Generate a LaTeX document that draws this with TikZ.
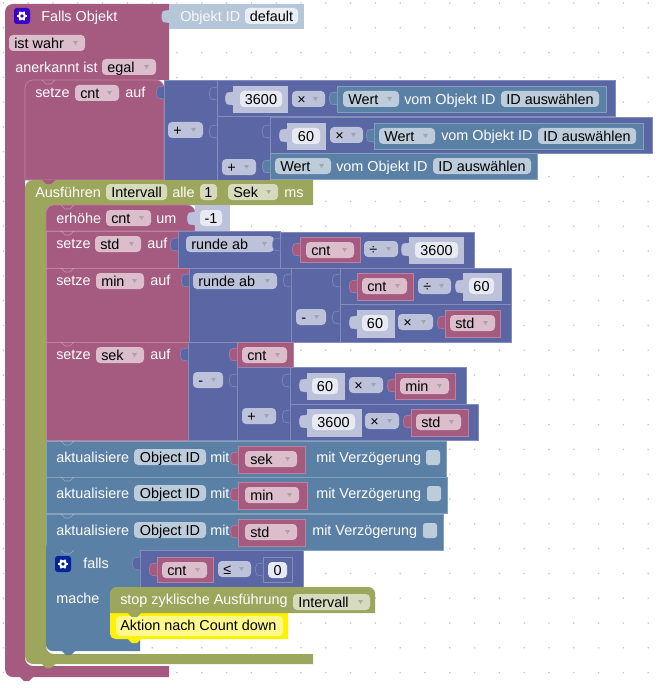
\documentclass[tikz,border=0pt]{standalone}
\usepackage{fontspec}
\setmainfont{Liberation Sans}

\definecolor{magc}{HTML}{A55B80}
\definecolor{magl}{HTML}{BC819E}
\definecolor{magd}{HTML}{DBBDCC}
\definecolor{mathc}{HTML}{5B67A5}
\definecolor{mathl}{HTML}{838DBC}
\definecolor{mathd}{HTML}{BDC2DB}
\definecolor{steelc}{HTML}{5B80A5}
\definecolor{steell}{HTML}{83A0BC}
\definecolor{steeld}{HTML}{BDCCDB}
\definecolor{olivec}{HTML}{9CA65C}
\definecolor{olived}{HTML}{D7DBBD}
\definecolor{palec}{HTML}{B4C6D8}
\definecolor{numf}{HTML}{E8EAF3}

% Bausteine: Rechteck, Wert-Lasche, untere Lasche
\newcommand{\blk}[5]{\path[#1] (#2,#3) rectangle (#4,#5);}
\newcommand{\valtab}[3]{%
    \path[#3, draw=none] (#1,#2) .. controls (#1-3,#2-1) and (#1-3,#2+2) .. (#1-6,#2+1) .. controls (#1-8,#2+3) and (#1-8,#2+10) .. (#1-6,#2+12) .. controls (#1-3,#2+11) and (#1-3,#2+14) .. (#1,#2+13) -- cycle;
    \path[#3, fill=none] (#1,#2) .. controls (#1-3,#2-1) and (#1-3,#2+2) .. (#1-6,#2+1) .. controls (#1-8,#2+3) and (#1-8,#2+10) .. (#1-6,#2+12) .. controls (#1-3,#2+11) and (#1-3,#2+14) .. (#1,#2+13);}
\newcommand{\nexttab}[3]{\fill[#3] (#1,#2) -- (#1+4,#2+4) -- (#1+9,#2+4) -- (#1+13,#2) -- cycle;}
\newcommand{\notch}[2]{\draw[white, opacity=.35, line width=.5pt] (#1,#2) -- (#1+4,#2+4) -- (#1+9,#2+4) -- (#1+13,#2);}
% Auswahlfeld und Textfeld
\newcommand{\ddfield}[5]{%
    \fill[#1, rounded corners=3pt] (#2,#4) rectangle (#3,#4+16);
    \fill[black!40, opacity=.7] (#3-12,#4+6) -- (#3-7,#4+6) -- (#3-9.5,#4+10) -- cycle;
    \node[fldtxt, anchor=west] (dd#2x#4) at (#2+5,#4+8) {#5};}
\newcommand{\txtfield}[5]{%
    \fill[#1, rounded corners=3pt] (#2,#4) rectangle (#3,#4+16);
    \node[fldtxt] (tf#2x#4) at ({(#2+#3)/2},#4+8) {#5};}
% Zahnrad
\newcommand{\gearicon}[3]{%
    \fill[#3, rounded corners=2pt] (#1,#2) rectangle (#1+16,#2+16);
    \foreach \a in {0,60,...,300}
        \draw[white, line width=1.2pt] (#1+8,#2+8) -- ++(\a:5);
    \fill[white] (#1+8,#2+8) circle (4);
    \fill[#3] (#1+8,#2+8) circle (1.8);}

\begin{document}
\begin{tikzpicture}[
    x=0.75pt, y=-0.75pt, % 1 Einheit = 1 Pixel
    font=\fontsize{10.8}{13}\selectfont,
    lbl/.style={text=white, anchor=west, inner sep=0pt, text height=9.5pt, text depth=1.5pt},
    fldtxt/.style={text=black, inner sep=0pt, text height=9.5pt, text depth=1.5pt},
    magblk/.style={fill=magc, draw=magl, line width=.4pt},
    mathblk/.style={fill=mathc, draw=mathl, line width=.4pt},
    steelblk/.style={fill=steelc, draw=steell, line width=.4pt},
    numblk/.style={fill=mathd, draw=mathd, line width=.4pt},
    ]

    % --- Hintergrund ---
    \fill[white] (0,0) rectangle (659,688);
    \foreach \i in {0,...,26}
        \foreach \j in {0,...,27}
            \fill[black!22] ({3.4+24.8*\i},{3+24.8*\j}) circle (0.9);

    % --- Falls Objekt ---
    \fill[magc] (169,80) -- (33,80) [rounded corners=6pt] -- (25,80) -- (25,666) [sharp corners] -- (169,666)
        -- (169,677) [rounded corners=6pt] -- (5,677) -- (5,4) [sharp corners] -- (169,4) -- cycle;
    \nexttab{20}{677}{magc}
    \blk{fill=palec}{169}{4}{304}{29}
    \valtab{169}{10}{fill=palec}
    \gearicon{14}{8}{blue!55!violet}
    \node[lbl] (fallsObj) at (41,16) {Falls Objekt};
    \node[lbl, text=white!90!palec] (objId) at (180,16) {Objekt ID};
    \txtfield{fill=white!70!palec}{245}{298}{8}{default}
    \ddfield{fill=magd}{9}{85}{35}{ist wahr}
    \node[lbl] (anerkannt) at (15,67) {anerkannt ist};
    \ddfield{fill=magd}{102}{156}{59}{egal}

    % --- setze cnt ---
    \path[magblk, rounded corners=6pt] (25,180) -- (25,80) -- (164,80) [sharp corners] -- (164,180) -- cycle;
    \notch{42}{80}
    \node[lbl] (setzeCnt) at (35,92) {setze};
    \ddfield{fill=magd}{75}{119}{85}{cnt}
    \node[lbl] (aufCnt) at (125,92) {auf};
    \blk{mathblk}{164}{80}{217}{180}
    \valtab{164}{86}{mathblk}
    \ddfield{fill=mathd}{168}{203}{122}{+}
    \blk{mathblk}{217}{80}{615}{116}
    \valtab{217}{87}{mathblk}
    \blk{numblk}{233}{86}{287}{112}
    \valtab{233}{92}{numblk}
    \txtfield{fill=numf}{240}{282}{91}{3600}
    \ddfield{fill=mathd}{292}{325}{91}{×}
    \blk{steelblk}{337}{86}{606}{112}
    \valtab{337}{92}{steelblk}
    \ddfield{fill=steeld}{343}{399}{91}{Wert}
    \node[lbl] (vomA) at (404,99) {vom Objekt ID};
    \txtfield{fill=steeld}{501}{599}{91}{ID auswählen}
    \blk{mathblk}{217}{116}{270}{180}
    \valtab{217}{125}{mathblk}
    \ddfield{fill=mathd}{222}{256}{159}{+}
    \blk{mathblk}{270}{117}{652}{153}
    \valtab{270}{125}{mathblk}
    \blk{numblk}{287}{123}{325}{149}
    \valtab{287}{129}{numblk}
    \txtfield{fill=numf}{292}{320}{128}{60}
    \ddfield{fill=mathd}{330}{363}{127}{×}
    \blk{steelblk}{374}{123}{643}{149}
    \valtab{374}{129}{steelblk}
    \ddfield{fill=steeld}{379}{435}{128}{Wert}
    \node[lbl] (vomB) at (441,135) {vom Objekt ID};
    \txtfield{fill=steeld}{538}{636}{128}{ID auswählen}
    \blk{steelblk}{270}{153}{537}{179}
    \valtab{270}{160}{steelblk}
    \ddfield{fill=steeld}{275}{331}{158}{Wert}
    \node[lbl] (vomC) at (336,166) {vom Objekt ID};
    \txtfield{fill=steeld}{433}{531}{158}{ID auswählen}

    % --- Ausführen Intervall ---
    \fill[olivec] (313,205) -- (54,205) [rounded corners=6pt] -- (46,205) -- (46,654) [sharp corners] -- (313,654)
        -- (313,664) [rounded corners=6pt] -- (25,664) -- (25,180) [sharp corners] -- (313,180) -- cycle;
    \nexttab{42}{180}{magc}
    \nexttab{42}{664}{olivec}
    \node[lbl] (ausf) at (35,192) {Ausführen};
    \txtfield{fill=olived}{106}{167}{184}{Intervall}
    \node[lbl] (alle) at (172,192) {alle};
    \txtfield{fill=olived}{200}{217}{184}{1}
    \ddfield{fill=olived}{228}{278}{184}{Sek}
    \node[lbl] (ms) at (284,192) {ms};

    % --- erhöhe cnt ---
    \path[magblk, rounded corners=6pt] (46,231) -- (46,205) -- (195,205) [sharp corners] -- (195,231) -- cycle;
    \notch{61}{205}
    \node[lbl] (erhoehe) at (56,218) {erhöhe};
    \ddfield{fill=magd}{106}{151}{210}{cnt}
    \node[lbl] (um) at (156,218) {um};
    \blk{numblk}{195}{205}{229}{231}
    \valtab{195}{212}{numblk}
    \txtfield{fill=numf}{200}{222}{210}{-1}

    % --- setze std ---
    \blk{magblk}{46}{231}{178}{268}
    \notch{61}{231}
    \node[lbl] (setzeStd) at (56,243) {setze};
    \ddfield{fill=magd}{95}{141}{236}{std}
    \node[lbl] (aufStd) at (147,243) {auf};
    \blk{mathblk}{178}{231}{280}{268}
    \valtab{178}{238}{mathblk}
    \ddfield{fill=mathd}{186}{274}{236}{runde ab}
    \blk{mathblk}{280}{232}{474}{268}
    \valtab{280}{238}{mathblk}
    \blk{magblk}{300}{237}{360}{262}
    \valtab{300}{243}{magblk}
    \ddfield{fill=magd}{306}{354}{242}{cnt}
    \ddfield{fill=mathd}{364}{398}{241}{÷}
    \blk{numblk}{409}{237}{463}{263}
    \valtab{409}{243}{numblk}
    \txtfield{fill=numf}{415}{458}{242}{3600}

    % --- setze min ---
    \blk{magblk}{46}{268}{189}{342}
    \notch{61}{268}
    \node[lbl] (setzeMin) at (56,280) {setze};
    \ddfield{fill=magd}{96}{144}{273}{min}
    \node[lbl] (aufMin) at (150,280) {auf};
    \blk{mathblk}{189}{268}{291}{342}
    \valtab{189}{274}{mathblk}
    \ddfield{fill=mathd}{193}{277}{273}{runde ab}
    \blk{mathblk}{291}{268}{340}{342}
    \valtab{291}{274}{mathblk}
    \ddfield{fill=mathd}{296}{326}{309}{-}
    \blk{mathblk}{340}{268}{511}{304}
    \valtab{340}{274}{mathblk}
    \blk{magblk}{357}{273}{413}{300}
    \valtab{357}{280}{magblk}
    \ddfield{fill=magd}{362}{407}{278}{cnt}
    \ddfield{fill=mathd}{418}{451}{278}{÷}
    \blk{numblk}{463}{273}{501}{300}
    \valtab{463}{280}{numblk}
    \txtfield{fill=numf}{469}{494}{278}{60}
    \blk{mathblk}{340}{304}{511}{342}
    \valtab{340}{311}{mathblk}
    \blk{numblk}{357}{310}{394}{337}
    \valtab{357}{316}{numblk}
    \txtfield{fill=numf}{362}{388}{315}{60}
    \ddfield{fill=mathd}{398}{433}{314}{×}
    \blk{magblk}{445}{310}{500}{337}
    \valtab{445}{316}{magblk}
    \ddfield{fill=magd}{450}{495}{315}{std}

    % --- setze sek ---
    \blk{magblk}{46}{342}{188}{440}
    \notch{61}{342}
    \node[lbl] (setzeSek) at (56,354) {setze};
    \ddfield{fill=magd}{96}{144}{347}{sek}
    \node[lbl] (aufSek) at (150,354) {auf};
    \blk{mathblk}{188}{342}{237}{440}
    \valtab{188}{348}{mathblk}
    \ddfield{fill=mathd}{193}{223}{372}{-}
    \blk{magblk}{237}{342}{293}{367}
    \valtab{237}{348}{magblk}
    \ddfield{fill=magd}{242}{287}{347}{cnt}
    \blk{mathblk}{237}{367}{290}{440}
    \valtab{237}{374}{mathblk}
    \ddfield{fill=mathd}{242}{276}{408}{+}
    \blk{mathblk}{290}{367}{466}{404}
    \valtab{290}{374}{mathblk}
    \blk{numblk}{307}{373}{344}{399}
    \valtab{307}{379}{numblk}
    \txtfield{fill=numf}{312}{338}{378}{60}
    \ddfield{fill=mathd}{349}{383}{377}{×}
    \blk{magblk}{395}{373}{455}{399}
    \valtab{395}{379}{magblk}
    \ddfield{fill=magd}{400}{449}{378}{min}
    \blk{mathblk}{290}{404}{478}{440}
    \valtab{290}{410}{mathblk}
    \blk{numblk}{307}{409}{361}{436}
    \valtab{307}{415}{numblk}
    \txtfield{fill=numf}{312}{355}{414}{3600}
    \ddfield{fill=mathd}{365}{399}{413}{×}
    \blk{magblk}{411}{409}{468}{436}
    \valtab{411}{415}{magblk}
    \ddfield{fill=magd}{416}{461}{414}{std}

    % --- aktualisiere ---
    \foreach \yy/\xe/\xv/\xw/\xm/\xc/\vv in {441/446/305/297/316/426/sek, 477/447/307/299/316/427/min, 514/443/305/297/312/423/std} {
        \blk{steelblk}{46}{\yy}{\xe}{\yy+36}
        \notch{61}{\yy}
        \node[lbl] (akt\vv) at (56,\yy+16) {aktualisiere};
        \txtfield{fill=steeld}{134}{206}{\yy+8}{Object ID}
        \node[lbl] (mit\vv) at (210,\yy+16) {mit};
        \blk{magblk}{238}{\yy+5}{\xv}{\yy+32}
        \valtab{238}{\yy+11}{magblk}
        \ddfield{fill=magd}{245}{\xw}{\yy+10}{\vv}
        \node[lbl] (verz\vv) at (\xm,\yy+16) {mit Verzögerung};
        \fill[steeld, rounded corners=2pt] (\xc,\yy+9) rectangle (\xc+14,\yy+24);
    }

    % --- falls ---
    \fill[steelc] (46,550) -- (140,550) -- (140,651) [rounded corners=5pt] -- (46,651) -- (46,550) -- cycle;
    \nexttab{62}{651}{steelc}
    \notch{61}{550}
    \gearicon{55}{556}{blue!75!cyan!60!black}
    \node[lbl] (falls) at (83,563) {falls};
    \node[lbl] (mache) at (56,598) {mache};
    \blk{mathblk}{140}{550}{303}{587}
    \valtab{140}{557}{mathblk}
    \blk{magblk}{157}{557}{213}{582}
    \valtab{157}{563}{magblk}
    \ddfield{fill=magd}{162}{207}{562}{cnt}
    \ddfield{fill=mathd}{218}{251}{561}{≤}
    \blk{mathblk}{263}{557}{292}{582}
    \valtab{263}{563}{mathblk}
    \txtfield{fill=numf}{268}{287}{562}{0}

    % --- stop / Aktion ---
    \fill[yellow] (110,613) -- (288,613) -- (288,639) [rounded corners=4pt] -- (110,639) -- (110,613) -- cycle;
    \nexttab{128}{639}{yellow}
    \fill[yellow!45, rounded corners=3pt] (116,616) rectangle (283,636);
    \node[fldtxt, anchor=west] (aktion) at (120,625) {Aktion nach Count down};
    \fill[olivec, rounded corners=5pt] (110,613) -- (110,587) -- (375,587) [sharp corners] -- (375,613) -- cycle;
    \nexttab{128}{613}{olivec}
    \node[lbl] (stopInt) at (120,599) {stop zyklische Ausführung};
    \ddfield{fill=olived}{293}{370}{594}{Intervall}

\end{tikzpicture}
\end{document}
